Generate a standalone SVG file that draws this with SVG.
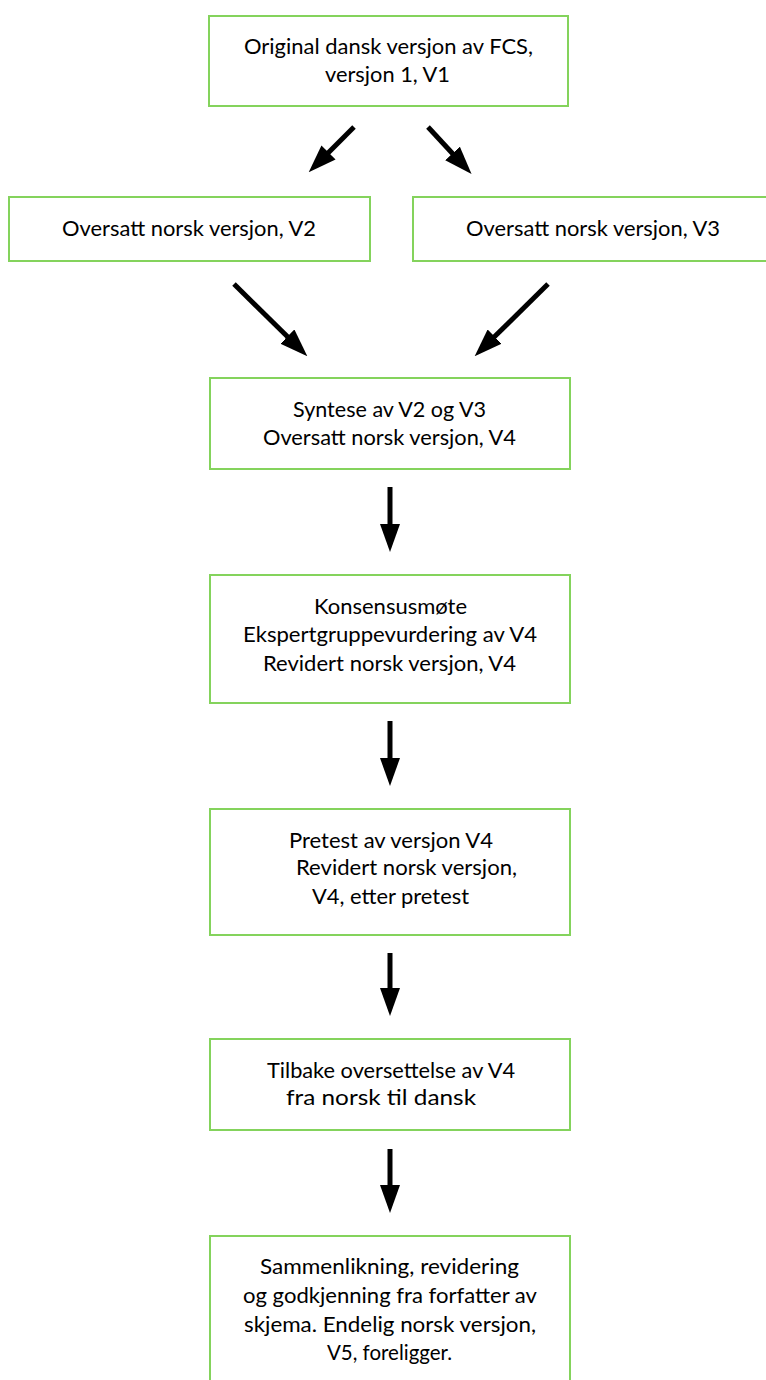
<svg xmlns="http://www.w3.org/2000/svg" width="766" height="1380" viewBox="0 0 766 1380">
<style>
.box{fill:#fff;stroke:#84d35c;stroke-width:2}
.t{font-family:Lato,"Liberation Sans",sans-serif;font-size:22px;fill:#000}
.c{stroke:#000;stroke-width:5;fill:none}
</style>
<defs>
<marker id="ah" viewBox="0 0 28 20" refX="1" refY="10" markerWidth="28" markerHeight="20" markerUnits="userSpaceOnUse" orient="auto">
<path d="M0,0 L28,10 L0,20 z" fill="#000"/>
</marker>
</defs>
<rect width="766" height="1380" fill="#fff"/>
<g id="n1">
<rect class="box" x="209" y="16" width="359" height="90"/>
<text class="t" x="244" y="54" textLength="289" lengthAdjust="spacingAndGlyphs">Original dansk versjon av FCS,</text>
<text class="t" x="325" y="82" textLength="125" lengthAdjust="spacingAndGlyphs">versjon 1, V1</text>
</g>
<g id="n2">
<rect class="box" x="9" y="197" width="361" height="64"/>
<text class="t" x="62" y="236" textLength="254" lengthAdjust="spacingAndGlyphs">Oversatt norsk versjon, V2</text>
</g>
<g id="n3">
<rect class="box" x="413" y="197" width="360" height="64"/>
<text class="t" x="466" y="236" textLength="254" lengthAdjust="spacingAndGlyphs">Oversatt norsk versjon, V3</text>
</g>
<g id="n4">
<rect class="box" x="210" y="378" width="360" height="91"/>
<text class="t" x="293" y="417" textLength="193" lengthAdjust="spacingAndGlyphs">Syntese av V2 og V3</text>
<text class="t" x="263" y="445" textLength="253" lengthAdjust="spacingAndGlyphs">Oversatt norsk versjon, V4</text>
</g>
<g id="n5">
<rect class="box" x="210" y="575" width="360" height="128"/>
<text class="t" x="314" y="614" textLength="153" lengthAdjust="spacingAndGlyphs">Konsensusmøte</text>
<text class="t" x="243" y="642" textLength="294" lengthAdjust="spacingAndGlyphs">Ekspertgruppevurdering av V4</text>
<text class="t" x="263" y="671" textLength="253" lengthAdjust="spacingAndGlyphs">Revidert norsk versjon, V4</text>
</g>
<g id="n6">
<rect class="box" x="210" y="809" width="360" height="126"/>
<text class="t" x="289" y="848" textLength="204" lengthAdjust="spacingAndGlyphs">Pretest av versjon V4</text>
<text class="t" x="296" y="875" textLength="221" lengthAdjust="spacingAndGlyphs">Revidert norsk versjon,</text>
<text class="t" x="312" y="904" textLength="157" lengthAdjust="spacingAndGlyphs">V4, etter pretest</text>
</g>
<g id="n7">
<rect class="box" x="210" y="1039" width="360" height="91"/>
<text class="t" x="267" y="1078" textLength="248" lengthAdjust="spacingAndGlyphs">Tilbake oversettelse av V4</text>
<text class="t" x="286" y="1105" textLength="190" lengthAdjust="spacingAndGlyphs">fra norsk til dansk</text>
</g>
<g id="n8">
<path class="box" d="M210,1390 V1236 H570 V1390"/>
<text class="t" x="260" y="1274" textLength="259" lengthAdjust="spacingAndGlyphs">Sammenlikning, revidering</text>
<text class="t" x="243" y="1303" textLength="294" lengthAdjust="spacingAndGlyphs">og godkjenning fra forfatter av</text>
<text class="t" x="244" y="1332" textLength="292" lengthAdjust="spacingAndGlyphs">skjema. Endelig norsk versjon,</text>
<text class="t" x="327" y="1360" textLength="125" lengthAdjust="spacingAndGlyphs">V5, foreligger.</text>
</g>
<g id="connectors">
<line class="c" x1="354" y1="127" x2="327.8" y2="153.2" marker-end="url(#ah)"/>
<line class="c" x1="428" y1="127" x2="453.2" y2="154.2" marker-end="url(#ah)"/>
<line class="c" x1="234" y1="284" x2="288.1" y2="337.3" marker-end="url(#ah)"/>
<line class="c" x1="548" y1="284" x2="493.9" y2="337.3" marker-end="url(#ah)"/>
<line class="c" x1="390" y1="487" x2="390" y2="525" marker-end="url(#ah)"/>
<line class="c" x1="390" y1="721" x2="390" y2="759" marker-end="url(#ah)"/>
<line class="c" x1="390" y1="953" x2="390" y2="989" marker-end="url(#ah)"/>
<line class="c" x1="390" y1="1149" x2="390" y2="1186" marker-end="url(#ah)"/>
</g>
</svg>
